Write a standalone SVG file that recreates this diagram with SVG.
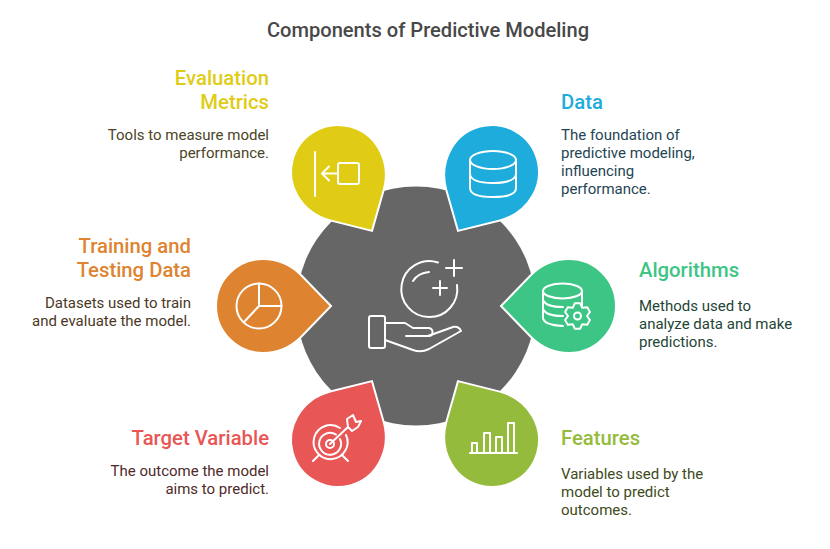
<svg xmlns="http://www.w3.org/2000/svg" width="830" height="549" viewBox="0 0 830 549">
<style>
text{font-family:Roboto,"Liberation Sans",sans-serif}
.t{font-size:20.100px;font-weight:500;fill:#484848}
.h{font-size:20.300px;font-weight:500}
.d{font-size:15px}
.e{text-anchor:end}
.drop{stroke:#fff;stroke-width:2;stroke-linejoin:miter}
.i{fill:none;stroke:#fff;stroke-width:2;stroke-linecap:round;stroke-linejoin:round}
</style>
<defs><path id="drop" d="M68 0L38 -31C28 -41 15 -47 0 -47A47 47 0 0 0 0 47C15 47 28 41 38 31Z"/></defs>
<rect width="830" height="549" fill="#fff"/>
<text class="t" x="428" y="37" text-anchor="middle">Components of Predictive Modeling</text>
<g id="center">
<circle cx="416" cy="306" r="119.500" fill="#666"/>
<g class="i">
<path d="M438 262.500A28 28 0 1 0 457 285"/>
<path d="M413 281Q418 273 429 272"/>
<path d="M454 260V276M446 268H462M440 281V295M433 288H447"/>
<rect x="369" y="316" width="16" height="32" rx="2"/>
<path d="M385 323H405L413 328H429Q433 329 432.500 333Q432 336 428 336H406"/>
<path d="M428 336L453 327Q459 326 461 331L429 349Q421 353 413 350L385 340"/>
</g>
</g>
<g id="evaluation-metrics">
<use href="#drop" class="drop" fill="#e0cc15" transform="translate(338 172) rotate(60)"/>
<g class="i"><path d="M315 152V196"/><rect x="338" y="163" width="21" height="21" rx="2"/><path d="M338 173.500H322M329 166.500L322 173.500L329 180.500"/></g>
<text class="h e" x="269" y="85" fill="#e0cc15">Evaluation</text><text class="h e" x="269" y="109" fill="#e0cc15">Metrics</text>
<g class="d e" fill="#4a4526"><text x="269" y="140">Tools to measure model</text><text x="269" y="158">performance.</text></g>
</g>
<g id="data">
<use href="#drop" class="drop" fill="#1eacdc" transform="translate(492 172) rotate(120)"/>
<g class="i"><ellipse cx="493" cy="160" rx="23" ry="9"/><path d="M470 160V188Q470 197 493 197Q516 197 516 188V160M470 174Q471 183 493 183Q515 183 516 174"/></g>
<text class="h" x="561" y="109" fill="#1eacdc">Data</text>
<g class="d" fill="#1f4554"><text x="561" y="140">The foundation of</text><text x="561" y="158">predictive modeling,</text><text x="561" y="176">influencing</text><text x="561" y="194">performance.</text></g>
</g>
<g id="algorithms">
<use href="#drop" class="drop" fill="#3dc585" transform="translate(569 306) rotate(180)"/>
<g class="i"><ellipse cx="562.500" cy="291" rx="19.500" ry="7.500"/><path d="M543 291V318Q544 325 563 326M582 291V307M543 300Q546 307 563 307M543 309Q546 316 563 316"/>
<path transform="translate(577.500 316)" d="M-2.700 -12.700H2.700L4.750 -8.200L9.700 -8.700L12.400 -4L9.500 0L12.400 4L9.700 8.700L4.750 8.200L2.700 12.700H-2.700L-4.750 8.200L-9.700 8.700L-12.400 4L-9.500 0L-12.400 -4L-9.700 -8.700L-4.750 -8.200Z"/><circle cx="577.500" cy="316" r="3.500"/></g>
<text class="h" x="639" y="277" fill="#3dc585">Algorithms</text>
<g class="d" fill="#1e4635"><text x="639" y="311">Methods used to</text><text x="639" y="329">analyze data and make</text><text x="639" y="347">predictions.</text></g>
</g>
<g id="features">
<use href="#drop" class="drop" fill="#95bb3c" transform="translate(492 440) rotate(240)"/>
<g class="i"><path d="M470 453H517"/><path d="M472 453V443H477V453M484 453V433H490V453M496 453V437H502V453M508 453V423H514V453"/></g>
<text class="h" x="561" y="445" fill="#95bb3c">Features</text>
<g class="d" fill="#3e4a20"><text x="561" y="479">Variables used by the</text><text x="561" y="497">model to predict</text><text x="561" y="515">outcomes.</text></g>
</g>
<g id="target-variable">
<use href="#drop" class="drop" fill="#e85655" transform="translate(338 440) rotate(300)"/>
<g class="i"><path d="M340 428A17 17 0 1 0 346 435"/><path d="M336 434.500A11 11 0 1 0 340 439"/><circle cx="330" cy="444" r="4"/><path d="M330 444L348 427M319 455L313 461M342 455L348 461"/><path d="M348 427L347 419L353 415L356 422L361 421L358 427L352 431Z"/></g>
<text class="h e" x="269" y="445" fill="#e85655">Target Variable</text>
<g class="d e" fill="#4f2a2a"><text x="269" y="476">The outcome the model</text><text x="269" y="494">aims to predict.</text></g>
</g>
<g id="training-testing">
<use href="#drop" class="drop" fill="#de8431" transform="translate(263 306)"/>
<g class="i"><circle cx="259" cy="306" r="22.500"/><path d="M259 283.500V306H281.500M259 306L244 322"/></g>
<text class="h e" x="191" y="253" fill="#de8431">Training and</text><text class="h e" x="191" y="277" fill="#de8431">Testing Data</text>
<g class="d e" fill="#4c3826"><text x="191" y="308">Datasets used to train</text><text x="191" y="326">and evaluate the model.</text></g>
</g>
<g id="connectors"></g>
</svg>
